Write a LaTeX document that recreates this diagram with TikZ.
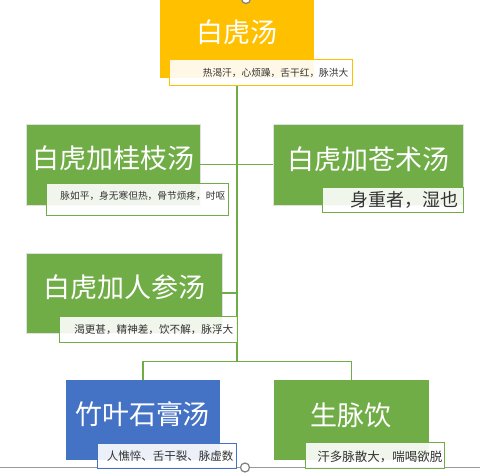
\documentclass[tikz,border=0pt]{standalone}
\usepackage{fontspec}
\newfontfamily\cjk{Noto Sans CJK SC}
\definecolor{org}{HTML}{FFC000}
\definecolor{grn}{HTML}{70AD47}
\definecolor{blu}{HTML}{4472C4}
\definecolor{txt}{HTML}{333333}
\tikzset{
  boxnode/.style={rectangle, inner sep=0pt, draw=black!12, line width=0.6pt},
  labnode/.style={rectangle, inner sep=0pt, fill=white, fill opacity=0.9, line width=1pt},
  titletxt/.style={inner sep=0pt, text=white, font=\cjk\fontsize{27}{31}\selectfont},
  labtxt/.style={inner sep=0pt, anchor=east, text=txt},
  conn/.style={draw=grn, line width=1.1pt},
}
\begin{document}
\begin{tikzpicture}[x=1pt,y=-1pt]
\useasboundingbox[fill=white] (0,0) rectangle (480,473);
% screen handles
\draw[gray!80, line width=1pt] (0,467.5) -- (480,467.5);
\coordinate (trunktop) at (237,86);
\coordinate (trunkbot) at (237,362);
% boxes
\node[boxnode, fill=org, draw=none, minimum width=154pt, minimum height=78pt] (b0) at (237,39) {};
\node[boxnode, fill=grn, minimum width=174pt, minimum height=81pt] (b1) at (113,164.5) {};
\node[boxnode, fill=grn, minimum width=190pt, minimum height=81pt] (b2) at (368,164.5) {};
\node[boxnode, fill=grn, minimum width=196pt, minimum height=80pt] (b3) at (124,293) {};
\node[boxnode, fill=blu, draw=none, minimum width=154pt, minimum height=80pt] (b4) at (143,420) {};
\node[boxnode, fill=grn, draw=none, minimum width=155pt, minimum height=80pt] (b5) at (351.5,420) {};
% connectors
\draw[conn] (trunktop) -- (trunkbot);
\draw[conn] (b1.east) -- (b1.east -| trunktop);
\draw[conn] (b2.west -| trunktop) -- (b2.west);
\draw[conn] (b3.east) -- (b3.east -| trunktop);
\draw[conn] (b4.north) -- ++(0,-18) -| (b5.north);
% titles
\node[titletxt] (t0) at (237,32) {白虎汤};
\node[titletxt] (t1) at (113.5,158) {白虎加桂枝汤};
\node[titletxt] (t2) at (368,159) {白虎加苍术汤};
\node[titletxt] (t3) at (124.5,287) {白虎加人参汤};
\node[titletxt] (t4) at (142.5,414) {竹叶石膏汤};
\node[titletxt] (t5) at (351,415) {生脉饮};
% labels
\node[labnode, draw=org, minimum width=183pt, minimum height=26pt] (l0) at (260.5,73) {};
\node[labnode, draw=grn, minimum width=182pt, minimum height=32pt] (l1) at (137,200) {};
\node[labnode, draw=grn, minimum width=141pt, minimum height=25pt] (l2) at (392.5,200.5) {};
\node[labnode, draw=grn, minimum width=178pt, minimum height=26pt] (l3) at (148,330) {};
\node[labnode, draw=blu, minimum width=139pt, minimum height=25pt] (l4) at (166.5,456.5) {};
\node[labnode, draw=grn, minimum width=139pt, minimum height=26pt] (l5) at (374.5,456) {};
\node[labtxt, font=\cjk\fontsize{9.7}{11}\selectfont] (l0t) at ([xshift=-4pt]l0.east) {热渴汗，心烦躁，舌干红，脉洪大};
\node[labtxt, font=\cjk\fontsize{9.7}{11}\selectfont] (l1t) at ([xshift=-3pt,yshift=4pt]l1.east) {脉如平，身无寒但热，骨节烦疼，时呕};
\node[labtxt, font=\cjk\fontsize{18}{20}\selectfont] (l2t) at ([xshift=-5pt,yshift=1pt]l2.east) {身重者，湿也};
\node[labtxt, font=\cjk\fontsize{10.6}{12}\selectfont] (l3t) at ([xshift=-4pt]l3.east) {渴更甚，精神差，饮不解，脉浮大};
\node[labtxt, font=\cjk\fontsize{11.5}{13}\selectfont] (l4t) at ([xshift=-3pt]l4.east) {人憔悴、舌干裂、脉虚数};
\node[labtxt, font=\cjk\fontsize{12.5}{14}\selectfont] (l5t) at ([xshift=-2pt,yshift=-1pt]l5.east) {汗多脉散大，喘喝欲脱};
% handle circles
\node[circle, draw=gray, fill=white, line width=1.2pt, minimum size=9pt, inner sep=0pt] (h1) at (246,-1) {};
\node[circle, draw=gray, fill=white, line width=1.2pt, minimum size=9pt, inner sep=0pt] (h2) at (245,467.5) {};
\end{tikzpicture}
\end{document}
